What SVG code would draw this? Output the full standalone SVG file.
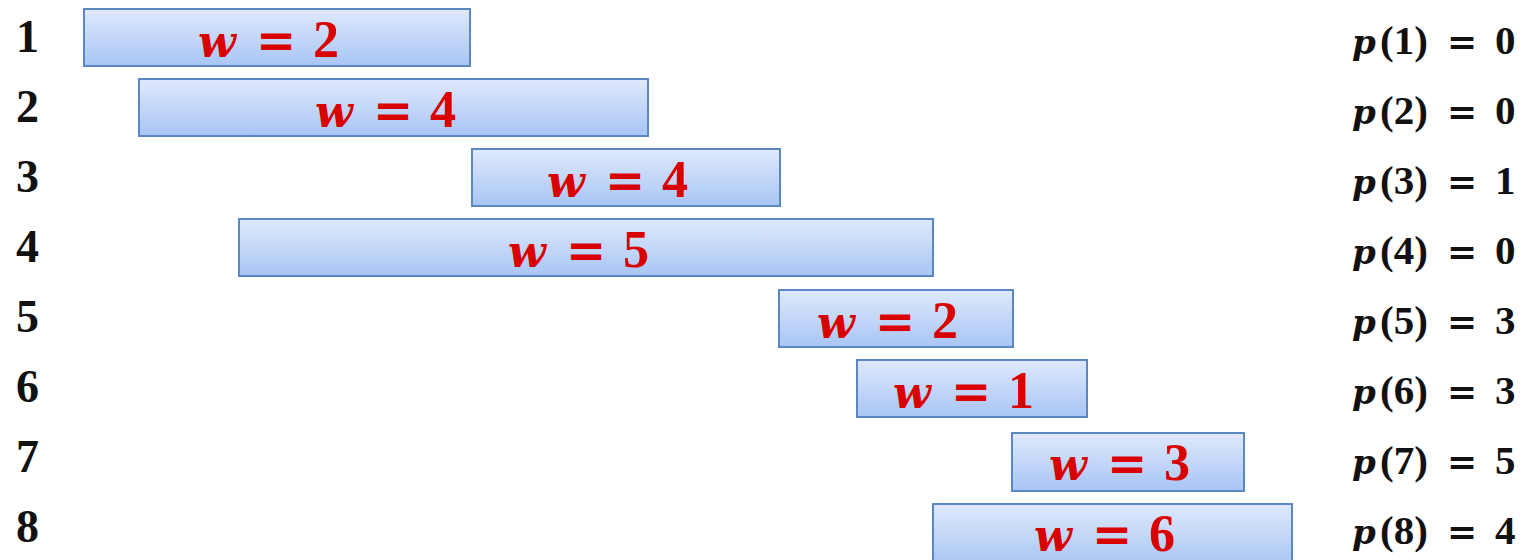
<svg xmlns="http://www.w3.org/2000/svg" width="1529" height="560" viewBox="0 0 1529 560">
<defs>
<linearGradient id="g" x1="0" y1="0" x2="0" y2="1">
<stop offset="0" stop-color="#dfe9fc"/>
<stop offset="1" stop-color="#a8c5f4"/>
</linearGradient>
<style>
.box{fill:url(#g);stroke:#5b87c5;stroke-width:2}
.w{font-family:"Liberation Serif","DejaVu Serif",serif;font-weight:bold;font-size:52px;fill:#d90000}
.i{font-style:italic;font-family:"DejaVu Serif",serif}
.eq{font-family:"DejaVu Serif",serif;font-weight:bold}
.n{font-family:"Liberation Serif","DejaVu Serif",serif;font-weight:bold;font-size:46px;fill:#111}
.p{font-family:"Liberation Serif","DejaVu Serif",serif;font-weight:bold;font-size:41px;fill:#111}
</style>
</defs>
<rect width="1529" height="560" fill="#fff"/>
<g id="labels">
<text class="n" x="16" y="52">1</text>
<text class="n" x="16" y="122">2</text>
<text class="n" x="16" y="192">3</text>
<text class="n" x="16" y="262">4</text>
<text class="n" x="16" y="332">5</text>
<text class="n" x="16" y="402">6</text>
<text class="n" x="16" y="472">7</text>
<text class="n" x="16" y="542">8</text>
</g>
<g id="node1"><rect class="box" x="84" y="9" width="386" height="57"/><text class="w" transform="translate(270,57)"><tspan class="i" x="-72" font-size="44">w</tspan><tspan class="eq" x="-14" font-size="48">=</tspan><tspan x="43">2</tspan></text></g>
<g id="node2"><rect class="box" x="139" y="79" width="509" height="57"/><text class="w" transform="translate(387,127)"><tspan class="i" x="-72" font-size="44">w</tspan><tspan class="eq" x="-14" font-size="48">=</tspan><tspan x="43">4</tspan></text></g>
<g id="node3"><rect class="box" x="472" y="149" width="308" height="57"/><text class="w" transform="translate(619,197)"><tspan class="i" x="-72" font-size="44">w</tspan><tspan class="eq" x="-14" font-size="48">=</tspan><tspan x="43">4</tspan></text></g>
<g id="node4"><rect class="box" x="239" y="219" width="694" height="57"/><text class="w" transform="translate(580,267)"><tspan class="i" x="-72" font-size="44">w</tspan><tspan class="eq" x="-14" font-size="48">=</tspan><tspan x="43">5</tspan></text></g>
<g id="node5"><rect class="box" x="779" y="290" width="234" height="57"/><text class="w" transform="translate(889,338)"><tspan class="i" x="-72" font-size="44">w</tspan><tspan class="eq" x="-14" font-size="48">=</tspan><tspan x="43">2</tspan></text></g>
<g id="node6"><rect class="box" x="857" y="360" width="230" height="57"/><text class="w" transform="translate(965,408)"><tspan class="i" x="-72" font-size="44">w</tspan><tspan class="eq" x="-14" font-size="48">=</tspan><tspan x="43">1</tspan></text></g>
<g id="node7"><rect class="box" x="1012" y="433" width="232" height="58"/><text class="w" transform="translate(1121,480)"><tspan class="i" x="-72" font-size="44">w</tspan><tspan class="eq" x="-14" font-size="48">=</tspan><tspan x="43">3</tspan></text></g>
<g id="node8"><rect class="box" x="933" y="504" width="359" height="62"/><text class="w" transform="translate(1106,551)"><tspan class="i" x="-72" font-size="44">w</tspan><tspan class="eq" x="-14" font-size="48">=</tspan><tspan x="43">6</tspan></text></g>
<g id="plabels">
<text class="p" transform="translate(1352,54)"><tspan class="i" x="0" font-size="34">p</tspan><tspan x="28">(1)</tspan><tspan class="eq" x="95" font-size="36">=</tspan><tspan x="143">0</tspan></text>
<text class="p" transform="translate(1352,124)"><tspan class="i" x="0" font-size="34">p</tspan><tspan x="28">(2)</tspan><tspan class="eq" x="95" font-size="36">=</tspan><tspan x="143">0</tspan></text>
<text class="p" transform="translate(1352,194)"><tspan class="i" x="0" font-size="34">p</tspan><tspan x="28">(3)</tspan><tspan class="eq" x="95" font-size="36">=</tspan><tspan x="143">1</tspan></text>
<text class="p" transform="translate(1352,264)"><tspan class="i" x="0" font-size="34">p</tspan><tspan x="28">(4)</tspan><tspan class="eq" x="95" font-size="36">=</tspan><tspan x="143">0</tspan></text>
<text class="p" transform="translate(1352,334)"><tspan class="i" x="0" font-size="34">p</tspan><tspan x="28">(5)</tspan><tspan class="eq" x="95" font-size="36">=</tspan><tspan x="143">3</tspan></text>
<text class="p" transform="translate(1352,404)"><tspan class="i" x="0" font-size="34">p</tspan><tspan x="28">(6)</tspan><tspan class="eq" x="95" font-size="36">=</tspan><tspan x="143">3</tspan></text>
<text class="p" transform="translate(1352,474)"><tspan class="i" x="0" font-size="34">p</tspan><tspan x="28">(7)</tspan><tspan class="eq" x="95" font-size="36">=</tspan><tspan x="143">5</tspan></text>
<text class="p" transform="translate(1352,544)"><tspan class="i" x="0" font-size="34">p</tspan><tspan x="28">(8)</tspan><tspan class="eq" x="95" font-size="36">=</tspan><tspan x="143">4</tspan></text>
</g>
<g id="connectors"/>
</svg>
